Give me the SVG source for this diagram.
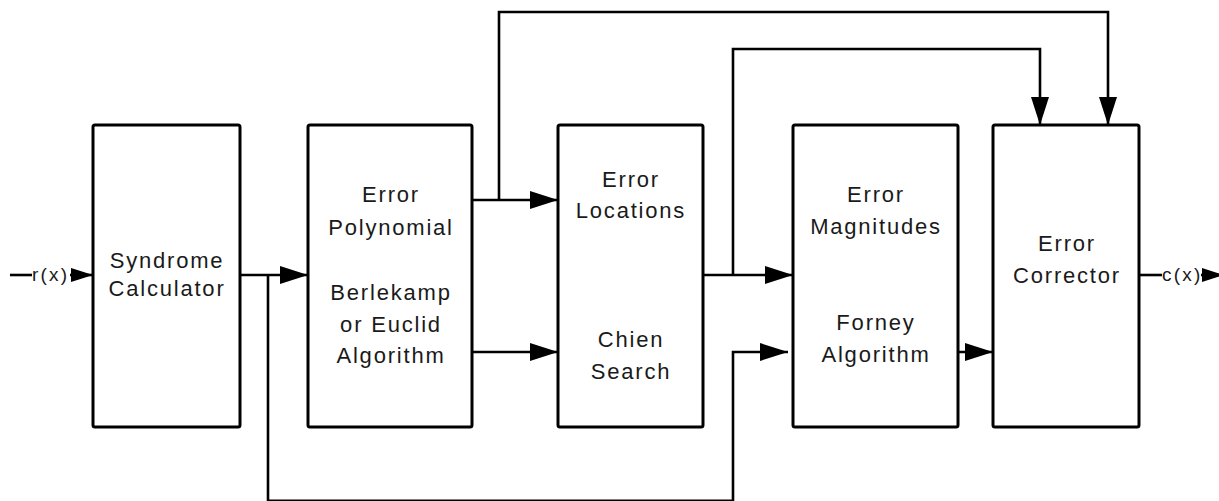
<svg xmlns="http://www.w3.org/2000/svg" width="1219" height="501" viewBox="0 0 1219 501">
  <style>
    .box { fill: #ffffff; stroke: #000000; stroke-width: 3; }
    .wire { fill: none; stroke: #000000; stroke-width: 2.6; }
    .lbl { font-family: "Liberation Sans", Arial, sans-serif; font-size: 22px; letter-spacing: 1.8px; fill: #1a1a1a; text-anchor: middle; }
    .io { font-family: "Liberation Sans", Arial, sans-serif; font-size: 19px; letter-spacing: 2.2px; fill: #1a1a1a; }
  </style>
  <defs>
    <marker id="arrow" viewBox="0 0 28 18" refX="28" refY="9" markerWidth="28" markerHeight="18" markerUnits="userSpaceOnUse" orient="auto">
      <path d="M0,0 L28,9 L0,18 Z" fill="#000000"/>
    </marker>
    <marker id="arrow-io" viewBox="0 0 22 14" refX="22" refY="7" markerWidth="22" markerHeight="14" markerUnits="userSpaceOnUse" orient="auto">
      <path d="M0,0 L22,7 L0,14 Z" fill="#000000"/>
    </marker>
  </defs>

  <rect width="1219" height="501" fill="#ffffff"/>

  <!-- connectors -->
  <g id="connectors">
    <!-- input r(x) -->
    <line class="wire" x1="10" y1="275" x2="32" y2="275"/>
    <line class="wire" x1="70" y1="275" x2="93" y2="275" marker-end="url(#arrow-io)"/>
    <!-- syndromes to Berlekamp -->
    <line class="wire" x1="240" y1="275" x2="308" y2="275" marker-end="url(#arrow)"/>
    <!-- syndromes routed along the bottom edge to Forney -->
    <polyline class="wire" points="268,275 268,500.8 733,500.8 733,352 788,352" marker-end="url(#arrow)"/>
    <!-- error polynomial to Chien search (upper) -->
    <line class="wire" x1="472" y1="200" x2="558" y2="200" marker-end="url(#arrow)"/>
    <!-- error polynomial over the top to corrector -->
    <polyline class="wire" points="499,200 499,12 1108,12 1108,125" marker-end="url(#arrow)"/>
    <!-- error polynomial to Chien search (lower) -->
    <line class="wire" x1="472" y1="352" x2="558" y2="352" marker-end="url(#arrow)"/>
    <!-- locations to Forney -->
    <line class="wire" x1="703" y1="275" x2="793" y2="275" marker-end="url(#arrow)"/>
    <!-- locations over the top to corrector -->
    <polyline class="wire" points="733,275 733,49 1040,49 1040,125" marker-end="url(#arrow)"/>
    <!-- magnitudes to corrector -->
    <line class="wire" x1="935" y1="352" x2="993" y2="352" marker-end="url(#arrow)"/>
    <!-- output c(x), arrowhead runs off the right edge -->
    <line class="wire" x1="1139" y1="275" x2="1162" y2="275"/>
    <line class="wire" x1="1201" y1="275" x2="1224" y2="275" marker-end="url(#arrow-io)"/>
  </g>

  <text class="io" x="32" y="281">r(x)</text>
  <text class="io" x="1162" y="281">c(x)</text>

  <g id="syndrome-calculator">
    <rect class="box" x="93" y="125" width="147" height="302" rx="2"/>
    <text class="lbl" x="167" y="268">Syndrome</text>
    <text class="lbl" x="167" y="296">Calculator</text>
  </g>

  <g id="berlekamp">
    <rect class="box" x="308" y="125" width="164" height="302" rx="2"/>
    <text class="lbl" x="391" y="202">Error</text>
    <text class="lbl" x="391" y="235">Polynomial</text>
    <text class="lbl" x="391" y="300">Berlekamp</text>
    <text class="lbl" x="391" y="332">or Euclid</text>
    <text class="lbl" x="391" y="363">Algorithm</text>
  </g>

  <g id="chien-search">
    <rect class="box" x="558" y="125" width="145" height="302" rx="2"/>
    <text class="lbl" x="631" y="187">Error</text>
    <text class="lbl" x="631" y="218">Locations</text>
    <text class="lbl" x="631" y="347">Chien</text>
    <text class="lbl" x="631" y="379">Search</text>
  </g>

  <g id="forney">
    <rect class="box" x="793" y="125" width="165" height="302" rx="2"/>
    <text class="lbl" x="876" y="202">Error</text>
    <text class="lbl" x="876" y="234">Magnitudes</text>
    <text class="lbl" x="876" y="330">Forney</text>
    <text class="lbl" x="876" y="362">Algorithm</text>
  </g>

  <g id="error-corrector">
    <rect class="box" x="993" y="125" width="146" height="302" rx="2"/>
    <text class="lbl" x="1067" y="251">Error</text>
    <text class="lbl" x="1067" y="283">Corrector</text>
  </g>
</svg>
